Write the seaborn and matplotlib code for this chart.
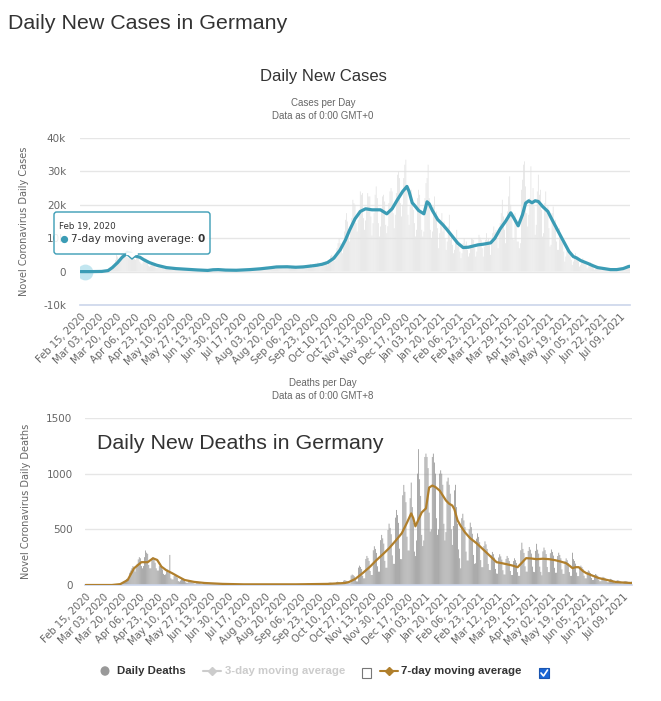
import numpy as np
import pandas as pd
import matplotlib
matplotlib.use("Agg")
import matplotlib.pyplot as plt
import seaborn as sns
from matplotlib.patches import FancyBboxPatch, Rectangle, Polygon, Circle
from matplotlib.lines import Line2D

# ---------------- data ----------------
start_date = "2020-02-15"

tick_labels = ["Feb 15, 2020", "Mar 03, 2020", "Mar 20, 2020", "Apr 06, 2020", "Apr 23, 2020",
               "May 10, 2020", "May 27, 2020", "Jun 13, 2020", "Jun 30, 2020", "Jul 17, 2020",
               "Aug 03, 2020", "Aug 20, 2020", "Sep 06, 2020", "Sep 23, 2020", "Oct 10, 2020",
               "Oct 27, 2020", "Nov 13, 2020", "Nov 30, 2020", "Dec 17, 2020", "Jan 03, 2021",
               "Jan 20, 2021", "Feb 06, 2021", "Feb 23, 2021", "Mar 12, 2021", "Mar 29, 2021",
               "Apr 15, 2021", "May 02, 2021", "May 19, 2021", "Jun 05, 2021", "Jun 22, 2021",
               "Jul 09, 2021"]

cases_yticks = [-10000, 0, 10000, 20000, 30000, 40000]
cases_ytick_labels = ["-10k", "0", "10k", "20k", "30k", "40k"]
deaths_yticks = [0, 500, 1000, 1500]
deaths_ytick_labels = ["0", "500", "1000", "1500"]

# daily new cases (thousands), one day per value starting Feb 15, 2020
daily_cases_k = [
    0, 0, 0, 0, 0, 0, 0,
    0, 0, 0, 0, 0.01, 0.02, 0,
    0.01, 0, 0.02, 0.01, 0.02, 0.03, 0.04,
    0.15, 0.1, 0.2, 0.3, 0.4, 0.8, 0.9,
    1.0, 1.2, 1.4, 1.6, 2.5, 3.5, 5.0,
    4.5, 3.0, 3.5, 4.2, 5.5, 6.0, 6.5,
    6.3, 4.5, 4.3, 4.0, 5.5, 6.2, 6.8,
    6.0, 4.8, 3.8, 3.5, 4.5, 5.3, 4.5,
    3.0, 2.5, 2.2, 2.8, 3.6, 4.0, 3.8,
    3.0, 1.8, 1.5, 1.8, 2.3, 2.6, 2.5,
    2.0, 1.2, 1.0, 1.2, 1.5, 1.8, 1.6,
    1.4, 0.9, 0.7, 0.9, 1.1, 1.3, 1.3,
    1.0, 0.7, 0.55, 0.7, 0.85, 1.05, 1.1,
    0.85, 0.6, 0.45, 0.55, 0.7, 0.9, 0.85,
    0.7, 0.5, 0.4, 0.5, 0.6, 0.75, 0.75,
    0.6, 0.45, 0.35, 0.4, 0.5, 0.6, 0.6,
    0.5, 0.35, 0.25, 0.3, 0.4, 0.5, 0.5,
    0.4, 0.3, 0.25, 0.35, 0.55, 0.7, 0.6,
    0.7, 0.55, 0.4, 0.5, 0.6, 0.7, 0.75,
    0.55, 0.4, 0.3, 0.35, 0.45, 0.55, 0.55,
    0.5, 0.35, 0.25, 0.3, 0.4, 0.5, 0.5,
    0.55, 0.4, 0.3, 0.35, 0.45, 0.55, 0.55,
    0.7, 0.5, 0.4, 0.5, 0.6, 0.75, 0.75,
    0.9, 0.65, 0.5, 0.6, 0.75, 0.95, 0.9,
    1.1, 0.75, 0.6, 0.7, 0.9, 1.15, 1.1,
    1.45, 1.0, 0.8, 0.95, 1.2, 1.5, 1.5,
    1.7, 1.2, 0.9, 1.1, 1.4, 1.75, 1.75,
    1.75, 1.25, 0.95, 1.15, 1.45, 1.8, 1.8,
    1.6, 1.15, 0.9, 1.1, 1.35, 1.7, 1.65,
    1.7, 1.2, 0.9, 1.1, 1.4, 1.75, 1.75,
    1.9, 1.35, 1.05, 1.3, 1.6, 2.0, 2.0,
    2.3, 1.6, 1.25, 1.5, 1.9, 2.4, 2.35,
    2.75, 1.95, 1.5, 1.85, 2.3, 2.9, 2.85,
    3.0, 2.2, 1.9, 2.8, 3.5, 4.6, 5.0,
    4.7, 3.6, 3.2, 5.0, 7.0, 8.5, 10.0,
    8.5, 6.5, 5.5, 8.0, 12.0, 15.5, 17.5,
    15.0, 11.0, 9.0, 12.0, 16.0, 21.5, 20.5,
    20.0, 14.5, 12.0, 15.5, 18.5, 24.0, 23.0,
    23.5, 16.0, 12.5, 15.3, 18.5, 23.5, 22.5,
    22.5, 16.5, 10.8, 14.5, 17.5, 23.0, 25.5,
    22.0, 14.5, 10.5, 13.5, 18.5, 22.5, 23.0,
    21.0, 14.0, 11.5, 13.6, 20.5, 24.0, 25.0,
    24.0, 17.5, 13.0, 17.0, 23.5, 29.0, 30.0,
    28.0, 20.5, 16.5, 20.0, 28.0, 32.0, 33.5,
    25.5, 17.0, 14.0, 19.5, 24.5, 21.0, 18.5,
    14.5, 10.5, 12.5, 22.0, 24.5, 23.0, 17.5,
    12.5, 10.5, 12.0, 22.0, 26.5, 28.0, 32.0,
    22.0, 12.5, 10.0, 12.0, 19.5, 22.5, 17.0,
    18.0, 13.0, 7.0, 11.5, 15.5, 17.5, 12.0,
    15.0, 10.0, 6.5, 9.0, 13.5, 17.0, 9.5,
    11.5, 8.0, 5.5, 6.5, 10.0, 12.5, 7.6,
    9.0, 6.0, 4.0, 5.5, 8.5, 10.0, 8.1,
    9.0, 6.5, 4.5, 5.5, 8.0, 10.0, 9.7,
    9.5, 7.0, 4.5, 6.0, 8.5, 11.0, 10.2,
    9.5, 7.0, 4.5, 7.5, 9.5, 11.5, 9.3,
    9.8, 8.0, 5.0, 9.0, 11.5, 13.5, 11.8,
    12.5, 10.0, 7.0, 11.5, 14.5, 17.5, 21.5,
    16.5, 12.5, 8.5, 14.5, 18.0, 22.5, 28.5,
    20.0, 17.5, 10.0, 9.5, 17.5, 14.5, 9.0,
    9.0, 7.0, 8.5, 24.5, 27.5, 32.0, 33.0,
    25.5, 17.5, 13.5, 17.0, 22.0, 31.5, 20.0,
    25.0, 19.5, 11.0, 14.0, 24.0, 29.0, 23.0,
    24.5, 18.5, 10.5, 11.5, 20.5, 24.0, 18.5,
    19.5, 13.0, 7.5, 8.0, 17.5, 19.5, 13.0,
    15.5, 9.0, 6.5, 6.5, 13.0, 10.5, 9.0,
    8.5, 6.0, 3.0, 4.5, 7.0, 7.0, 6.0,
    5.5, 3.5, 2.0, 3.0, 4.5, 5.5, 4.0,
    4.0, 3.0, 1.5, 2.0, 3.5, 4.0, 3.0,
    2.5, 2.0, 1.0, 1.5, 2.5, 2.8, 1.7,
    1.6, 1.0, 0.6, 0.9, 1.5, 1.7, 1.1,
    1.0, 0.7, 0.4, 0.6, 1.0, 1.1, 0.8,
    0.75, 0.55, 0.3, 0.45, 0.7, 0.8, 0.65,
    0.9, 0.6, 0.4, 0.65, 1.0, 1.1, 0.95,
    1.3, 1.0, 0.7, 1.2, 1.7, 2.0, 1.9,
    1.8,
]

# 7-day moving average of cases (thousands), read at these dates
cases_ma_dates = [
    "2020-02-15", "2020-02-25", "2020-03-06", "2020-03-12", "2020-03-16", "2020-03-21",
    "2020-03-25", "2020-03-28", "2020-03-30", "2020-04-02", "2020-04-05", "2020-04-11",
    "2020-04-15", "2020-04-20", "2020-04-27", "2020-05-06", "2020-05-15", "2020-05-25",
    "2020-06-04", "2020-06-14", "2020-06-19", "2020-06-24", "2020-07-01", "2020-07-11",
    "2020-07-24", "2020-08-03", "2020-08-13", "2020-08-18", "2020-08-28", "2020-09-05",
    "2020-09-12", "2020-09-20", "2020-09-25", "2020-09-30", "2020-10-05", "2020-10-11",
    "2020-10-17", "2020-10-22", "2020-10-26", "2020-10-31", "2020-11-05", "2020-11-10",
    "2020-11-16", "2020-11-24", "2020-11-30", "2020-12-05", "2020-12-10", "2020-12-15",
    "2020-12-19", "2020-12-21", "2020-12-24", "2020-12-27", "2020-12-30", "2021-01-04",
    "2021-01-07", "2021-01-09", "2021-01-12", "2021-01-17", "2021-01-22", "2021-01-26",
    "2021-02-01", "2021-02-05", "2021-02-10", "2021-02-15", "2021-02-24", "2021-03-01",
    "2021-03-08", "2021-03-12", "2021-03-17", "2021-03-22", "2021-03-27", "2021-03-30",
    "2021-04-03", "2021-04-07", "2021-04-10", "2021-04-13", "2021-04-16", "2021-04-19",
    "2021-04-22", "2021-04-26", "2021-05-01", "2021-05-05", "2021-05-10", "2021-05-15",
    "2021-05-21", "2021-05-25", "2021-05-28", "2021-06-01", "2021-06-08", "2021-06-13",
    "2021-06-17", "2021-06-23", "2021-06-29", "2021-07-05", "2021-07-11", "2021-07-16",
    "2021-07-17",
]
cases_ma_k = [
    0, 0, 0.05, 0.3, 1.2, 2.7,
    4.2, 5.0, 5.8, 5.5, 4.8, 4.3,
    3.5, 2.7, 1.9, 1.2, 0.9, 0.7,
    0.5, 0.35, 0.55, 0.6, 0.45, 0.4,
    0.6, 0.85, 1.2, 1.4, 1.45, 1.3,
    1.4, 1.7, 1.9, 2.2, 2.7, 4.0,
    6.5, 9.5, 12.5, 15.8, 18.0, 18.8,
    18.5, 18.5, 17.3, 18.8, 21.5, 24.0,
    25.5, 24.0, 20.6, 19.5, 18.3, 17.3,
    20.9, 20.3, 18.3, 15.6, 14.0, 12.5,
    10.1, 8.5, 7.2, 7.3, 8.0, 8.2,
    8.6, 10.0, 12.8, 15.0, 17.6, 16.0,
    13.7, 17.0, 20.5, 21.2, 20.6, 21.2,
    21.0, 19.5, 18.0, 15.5, 12.5, 9.5,
    6.0, 4.5, 4.1, 3.3, 2.4, 1.7,
    1.2, 0.9, 0.6, 0.6, 0.9, 1.5,
    1.6,
]

# daily new deaths, one day per value starting Feb 15, 2020
daily_deaths = [
    0, 0, 0, 0, 0, 0, 0,
    0, 0, 0, 0, 0, 0, 0,
    0, 0, 0, 0, 0, 0, 0,
    0, 0, 2, 0, 0, 0, 0,
    2, 3, 1, 4, 8, 4, 6,
    20, 25, 30, 45, 55, 50, 55,
    110, 130, 150, 170, 140, 120, 160,
    190, 230, 250, 240, 170, 150, 170,
    250, 310, 290, 280, 180, 150, 150,
    240, 250, 230, 200, 150, 130, 130,
    170, 190, 160, 140, 100, 90, 95,
    120, 140, 110, 270, 60, 50, 50,
    80, 90, 80, 65, 35, 30, 40,
    55, 60, 55, 45, 25, 20, 20,
    38, 42, 38, 34, 20, 14, 10,
    26, 30, 28, 24, 14, 10, 8,
    20, 22, 20, 18, 10, 7, 8,
    14, 16, 15, 13, 8, 6, 5,
    12, 13, 12, 11, 6, 4, 5,
    9, 10, 10, 8, 5, 3, 4,
    8, 9, 8, 7, 4, 3, 3,
    8, 9, 8, 7, 4, 3, 3,
    8, 9, 8, 7, 4, 3, 3,
    8, 9, 8, 7, 4, 3, 3,
    8, 9, 8, 7, 4, 3, 3,
    8, 9, 8, 7, 4, 3, 3,
    8, 9, 8, 7, 4, 3, 3,
    8, 9, 8, 7, 4, 3, 3,
    8, 9, 8, 7, 4, 3, 3,
    9, 10, 10, 8, 5, 3, 4,
    10, 12, 11, 10, 6, 4, 3,
    13, 15, 14, 12, 7, 5, 4,
    16, 17, 16, 14, 8, 6, 7,
    20, 22, 20, 18, 10, 8, 7,
    26, 29, 27, 24, 14, 10, 10,
    39, 44, 40, 36, 21, 15, 15,
    85, 94, 88, 78, 45, 33, 32,
    156, 174, 162, 144, 84, 60, 60,
    234, 261, 243, 216, 126, 90, 90,
    312, 348, 324, 288, 168, 120, 120,
    403, 450, 419, 372, 217, 155, 155,
    494, 551, 513, 456, 266, 190, 190,
    605, 674, 628, 558, 326, 233, 232,
    806, 899, 837, 744, 434, 310, 310,
    780, 920, 700, 560, 300, 260, 400,
    1000, 1220, 950, 800, 450, 350, 400,
    1150, 1180, 1150, 1050, 650, 480, 500,
    1150, 1180, 1100, 1000, 600, 450, 500,
    1000, 1030, 1000, 900, 550, 400, 475,
    930, 964, 900, 820, 500, 360, 530,
    850, 900, 700, 550, 320, 240, 150,
    600, 640, 580, 520, 300, 220, 220,
    500, 560, 520, 460, 270, 190, 195,
    416, 464, 432, 384, 224, 160, 160,
    351, 392, 365, 324, 189, 135, 134,
    267, 297, 277, 246, 144, 103, 101,
    247, 276, 257, 228, 133, 95, 94,
    234, 261, 243, 216, 126, 90, 90,
    215, 240, 223, 198, 115, 82, 82,
    312, 380, 324, 288, 168, 120, 120,
    306, 341, 317, 282, 165, 118, 116,
    306, 370, 317, 282, 165, 118, 87,
    302, 336, 313, 278, 162, 116, 116,
    286, 319, 297, 264, 154, 110, 110,
    260, 290, 270, 240, 140, 100, 100,
    215, 239, 223, 198, 116, 82, 82,
    290, 232, 216, 192, 112, 80, 80,
    156, 174, 162, 144, 84, 60, 60,
    117, 131, 122, 108, 63, 45, 45,
    88, 99, 92, 82, 48, 34, 34,
    65, 73, 68, 60, 35, 25, 25,
    49, 55, 51, 46, 27, 19, 19,
    39, 44, 41, 36, 21, 15, 14,
    33, 36, 34, 30, 18, 13, 11,
    30,
]

# 7-day moving average of deaths, read at these dates
deaths_ma_dates = [
    "2020-02-15", "2020-03-11", "2020-03-19", "2020-03-26", "2020-04-01", "2020-04-08",
    "2020-04-14", "2020-04-19", "2020-04-23", "2020-04-27", "2020-05-02", "2020-05-07",
    "2020-05-13", "2020-05-19", "2020-05-28", "2020-06-07", "2020-06-24", "2020-07-14",
    "2020-09-02", "2020-10-02", "2020-10-18", "2020-10-22", "2020-10-28", "2020-11-04",
    "2020-11-11", "2020-11-17", "2020-11-23", "2020-11-29", "2020-12-05", "2020-12-11",
    "2020-12-16", "2020-12-20", "2020-12-22", "2020-12-24", "2020-12-27", "2020-12-30",
    "2021-01-03", "2021-01-06", "2021-01-09", "2021-01-12", "2021-01-16", "2021-01-22",
    "2021-01-25", "2021-01-28", "2021-01-30", "2021-02-02", "2021-02-05", "2021-02-09",
    "2021-02-14", "2021-02-20", "2021-02-24", "2021-03-01", "2021-03-06", "2021-03-11",
    "2021-03-16", "2021-03-20", "2021-03-26", "2021-03-31", "2021-04-04", "2021-04-08",
    "2021-04-13", "2021-04-18", "2021-04-24", "2021-04-30", "2021-05-06", "2021-05-11",
    "2021-05-16", "2021-05-19", "2021-05-22", "2021-05-25", "2021-05-28", "2021-06-01",
    "2021-06-04", "2021-06-09", "2021-06-16", "2021-06-24", "2021-07-02", "2021-07-09",
    "2021-07-17",
]
deaths_ma = [
    0, 0, 8, 45, 150, 205,
    205, 240, 225, 165, 130, 107,
    75, 45, 28, 18, 10, 6,
    6, 10, 18, 27, 55, 107,
    165, 223, 275, 330, 395, 464,
    560, 643, 600, 527, 590, 652,
    688, 875, 893, 880, 848, 759,
    730, 714, 680, 580, 530, 473,
    420, 375, 340, 295, 250, 205,
    196, 188, 175, 160, 200, 241,
    238, 232, 236, 232, 222, 210,
    196, 175, 152, 160, 160, 125,
    107, 88, 62, 45, 27, 22,
    18,
]

legend_labels = ["Daily Deaths", "3-day moving average", "7-day moving average"]

# ---------------- style ----------------
sns.set_theme(style="white")
plt.rcParams['font.family'] = ['DejaVu Sans']

W, H = 661, 701
fig = plt.figure(figsize=(W / 100, H / 100), dpi=100)
fig.patch.set_facecolor("white")


def fx(px):
    return px / W


def fy(py):
    return 1 - py / H


TEAL = "#3b9cb5"
BROWN = "#b07f2c"
TXT = "#333333"
SUB = "#666666"
GRID = "#e6e6e6"
AXL = "#ccd6eb"

start = pd.Timestamp(start_date)
n_days = len(daily_cases_k)
day_idx = np.arange(n_days)


def to_idx(dates):
    return np.array([(pd.Timestamp(d) - start).days for d in dates])


tick_pos = to_idx([pd.to_datetime(t, format="%b %d, %Y") for t in tick_labels])


def style_axes(ax, yticks, yticklabels, ylabel, label_x):
    ax.set_xlim(-0.5, n_days - 0.5)
    ax.set_ylim(yticks[0], yticks[-1])
    ax.set_yticks(yticks)
    ax.set_yticklabels(yticklabels)
    ax.set_xticks(tick_pos)
    ax.set_xticklabels(tick_labels, rotation=45, ha="right", rotation_mode="anchor")
    ax.tick_params(axis="x", length=0, pad=5, labelsize=7.2, labelcolor=SUB)
    ax.tick_params(axis="y", length=0, labelsize=7.5, labelcolor=SUB)
    for s in ["top", "right", "left"]:
        ax.spines[s].set_visible(False)
    ax.spines["bottom"].set_color(AXL)
    ax.spines["bottom"].set_linewidth(1.2)
    ax.yaxis.grid(True, color=GRID, linewidth=1)
    ax.xaxis.grid(False)
    ax.set_axisbelow(True)
    ax.set_xlabel("")
    ax.set_ylabel(ylabel, color=SUB, fontsize=7)
    ax.yaxis.set_label_coords(label_x, 0.5)
    ax.set_facecolor("none")


# ---------------- top chart: cases ----------------
ax1 = fig.add_axes([fx(80), fy(305), fx(630) - fx(80), fy(138) - fy(305)])
sns.barplot(x=day_idx, y=np.array(daily_cases_k) * 1000, native_scale=True, color="#e2e2e2",
            saturation=1, linewidth=0, errorbar=None, ax=ax1, zorder=2, width=0.7, snap=False)
sns.lineplot(x=to_idx(cases_ma_dates), y=np.array(cases_ma_k) * 1000, color=TEAL, linewidth=2.3,
             errorbar=None, legend=False, ax=ax1, zorder=4)
ax1.scatter([to_idx(["2020-02-19"])[0]], [0], s=130, color="#a9dcea", alpha=0.7, zorder=3,
            linewidths=0)
style_axes(ax1, cases_yticks, cases_ytick_labels, "Novel Coronavirus Daily Cases", (29 - 80) / 550)
ax1.tick_params(axis="y", pad=10)

# ---------------- bottom chart: deaths ----------------
ax2 = fig.add_axes([fx(85), fy(585), fx(632) - fx(85), fy(418) - fy(585)])
sns.barplot(x=day_idx, y=daily_deaths, native_scale=True, color="#959595",
            saturation=1, linewidth=0, errorbar=None, ax=ax2, zorder=2, width=0.75, snap=False)
sns.lineplot(x=to_idx(deaths_ma_dates), y=deaths_ma, color=BROWN, linewidth=1.6,
             errorbar=None, legend=False, ax=ax2, zorder=4)
style_axes(ax2, deaths_yticks, deaths_ytick_labels, "Novel Coronavirus Daily Deaths", (31 - 85) / 547)
ax2.tick_params(axis="y", pad=9)

# ---------------- titles ----------------
fig.text(fx(8), fy(29), "Daily New Cases in Germany", fontsize=15.4, color=TXT,
         family="Liberation Sans", va="baseline", ha="left")
fig.text(fx(323), fy(76), "Daily New Cases", fontsize=12, color=TXT,
         family="Liberation Sans", va="center", ha="center")
fig.text(fx(323), fy(103), "Cases per Day", fontsize=7, color=SUB,
         family="Liberation Sans", va="center", ha="center")
fig.text(fx(323), fy(116), "Data as of 0:00 GMT+0", fontsize=7, color=SUB,
         family="Liberation Sans", va="center", ha="center")
fig.text(fx(323), fy(383), "Deaths per Day", fontsize=7, color=SUB,
         family="Liberation Sans", va="center", ha="center")
fig.text(fx(323), fy(396), "Data as of 0:00 GMT+8", fontsize=7, color=SUB,
         family="Liberation Sans", va="center", ha="center")
fig.text(fx(97), fy(443), "Daily New Deaths in Germany", fontsize=15.4, color=TXT,
         family="Liberation Sans", va="center", ha="left", zorder=10)

# ---------------- tooltip ----------------
tip = FancyBboxPatch((fx(54), fy(254)), fx(210) - fx(54), fy(212) - fy(254),
                     boxstyle="round,pad=0,rounding_size=0.004", transform=fig.transFigure,
                     facecolor=(1, 1, 1, 0.88), edgecolor=TEAL, linewidth=1, zorder=20)
fig.add_artist(tip)
ptr = Polygon([(fx(126), fy(254)), (fx(138), fy(254)), (fx(132), fy(259))], closed=True,
              transform=fig.transFigure, facecolor="white", edgecolor=TEAL, linewidth=1, zorder=21)
fig.add_artist(ptr)
fig.add_artist(Line2D([fx(127), fx(137)], [fy(254), fy(254)], transform=fig.transFigure,
                      color="white", linewidth=1.6, zorder=22))
fig.text(fx(59), fy(226), "Feb 19, 2020", fontsize=6.3, color=TXT, va="center", ha="left", zorder=23)
fig.add_artist(Line2D([fx(64)], [fy(239)], transform=fig.transFigure, marker="o",
                      markersize=4.2, color=TEAL, linewidth=0, zorder=23))
t_lbl = fig.text(fx(71), fy(239), "7-day moving average: ", fontsize=7.6, color=TXT,
                 va="center", ha="left", zorder=23)
renderer = fig.canvas.get_renderer()
bb = t_lbl.get_window_extent(renderer=renderer)
fig.text(bb.x1 / fig.bbox.width, fy(239), "0", fontsize=7.6, color=TXT, fontweight="bold",
         va="center", ha="left", zorder=23)

# ---------------- legend ----------------
LY = 671
fig.add_artist(Circle((fx(105), fy(LY)), 4.5 / W, transform=fig.transFigure,
                      facecolor="#999999", edgecolor="none"))
fig.text(fx(117), fy(LY), legend_labels[0], fontsize=8.2, fontweight="bold", color=TXT,
         family="Liberation Sans", va="center", ha="left")
fig.add_artist(Line2D([fx(203), fx(221)], [fy(LY), fy(LY)], transform=fig.transFigure,
                      color="#cccccc", linewidth=1.5))
fig.add_artist(Line2D([fx(212)], [fy(LY)], transform=fig.transFigure, marker="D",
                      markersize=4, color="#cccccc"))
fig.text(fx(225), fy(LY), legend_labels[1], fontsize=8.2, fontweight="bold", color="#cccccc",
         family="Liberation Sans", va="center", ha="left")
fig.add_artist(Rectangle((fx(362), fy(678)), 9 / W, 10 / H, transform=fig.transFigure,
                         facecolor="white", edgecolor="#777777", linewidth=0.8))
fig.add_artist(Line2D([fx(380), fx(398)], [fy(LY), fy(LY)], transform=fig.transFigure,
                      color=BROWN, linewidth=1.5))
fig.add_artist(Line2D([fx(389)], [fy(LY)], transform=fig.transFigure, marker="D",
                      markersize=4, color=BROWN))
fig.text(fx(401), fy(LY), legend_labels[2], fontsize=8.2, fontweight="bold", color=TXT,
         family="Liberation Sans", va="center", ha="left")
fig.add_artist(Rectangle((fx(539), fy(678)), 10 / W, 10 / H, transform=fig.transFigure,
                         facecolor="#1a66d6", edgecolor="#1a55b0", linewidth=0.8))
fig.add_artist(Line2D([fx(541), fx(543.5), fx(547.5)], [fy(673), fy(676), fy(670)],
                      transform=fig.transFigure, color="white", linewidth=1.2))

fig.savefig("out.png", dpi=100, facecolor="white")
